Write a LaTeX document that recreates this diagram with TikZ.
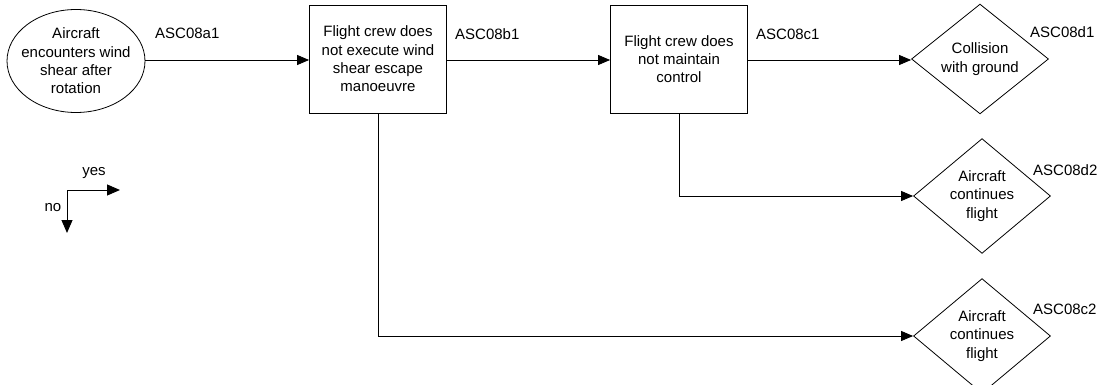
\documentclass[tikz,border=0pt]{standalone}
\usepackage{fontspec}
\setmainfont{Liberation Sans}
\usetikzlibrary{shapes.geometric,arrows.meta}
\begin{document}
\begin{tikzpicture}[x=1pt,y=-1pt,
  every node/.style={font=\fontsize{15}{18.3}\selectfont, inner sep=0pt},
  ev/.style={draw, ellipse, minimum width=138pt, minimum height=103pt, inner xsep=-8pt, align=center, line width=0.8pt},
  stepbox/.style={draw, rectangle, minimum width=137pt, minimum height=108pt, align=center, line width=0.8pt},
  outc/.style={draw, diamond, minimum width=137pt, minimum height=109pt, align=center, line width=0.8pt},
  lbl/.style={anchor=west},
  conn/.style={line width=0.8pt, -{Triangle[length=12pt,width=10pt]}},
  legarrow/.style={line width=1pt, -{Triangle[length=13pt,width=11pt]}}
]
\useasboundingbox (0,0) rectangle (1102,385);

\node[ev] (a1) at (76,61) {Aircraft\\encounters wind\\shear after\\rotation};
\node[stepbox] (b1) at (378,59) {Flight crew does\\not execute wind\\shear escape\\manoeuvre};
\node[stepbox] (c1) at (679,59) {Flight crew does\\not maintain\\control};
\node[outc] (d1) at (980,59) {Collision\\with ground};
\node[outc] (d2) at (982,196) {Aircraft\\continues\\flight};
\node[outc] (c2) at (982,336) {Aircraft\\continues\\flight};

\node[lbl] (la1) at (155,33) {ASC08a1};
\node[lbl] (lb1) at (455,34) {ASC08b1};
\node[lbl] (lc1) at (756,34) {ASC08c1};
\node[lbl] (ld1) at (1030,32) {ASC08d1};
\node[lbl] (ld2) at (1033,170) {ASC08d2};
\node[lbl] (lc2) at (1033,309) {ASC08c2};

\draw[conn] (a1.east |- 0,60) -- (b1.west |- 0,60);
\draw[conn] (b1.east |- 0,60) -- (c1.west |- 0,60);
\draw[conn] (c1.east |- 0,60) -- (d1.west |- 0,60);
\draw[conn] (c1.south) |- (d2.west);
\draw[conn] (b1.south) |- (c2.west);

% legend
\coordinate (lg) at (67,190);
\coordinate (lgx) at (120,190);
\coordinate (lgy) at (67,233);
\draw[legarrow] (lg) -- (lgx);
\draw[legarrow] (lg) -- (lgy);
\node (yes) at (94,173) {yes};
\node (no) at (53,208) {no};
\end{tikzpicture}
\end{document}
